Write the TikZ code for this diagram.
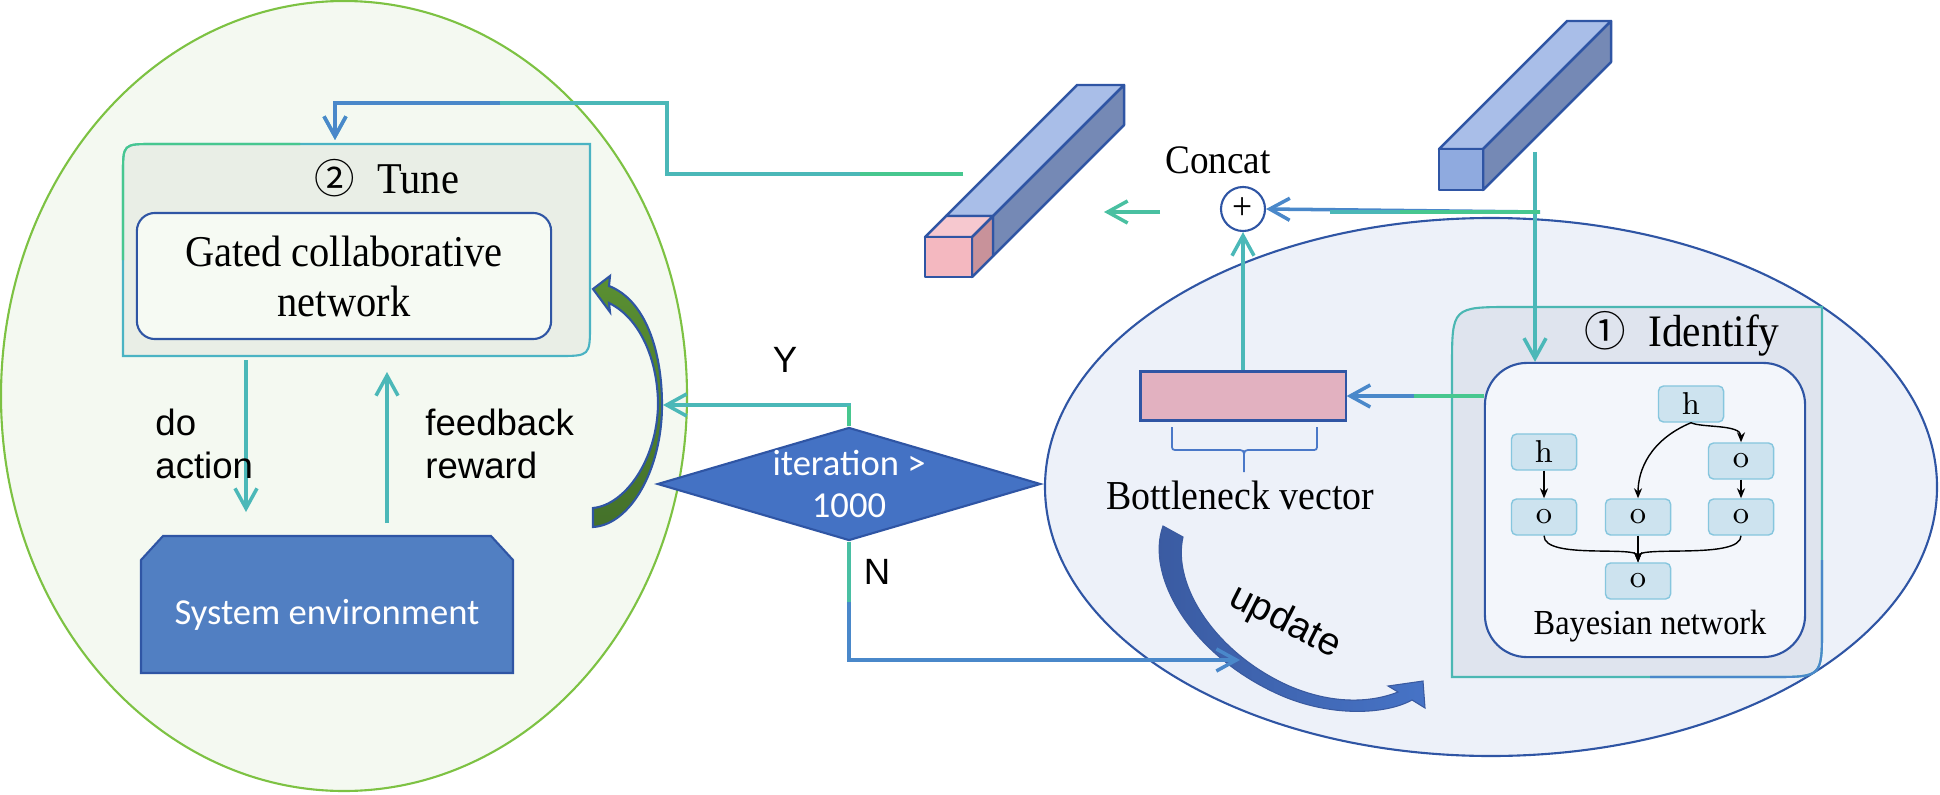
\documentclass[tikz,border=0pt]{standalone}
\usepackage{fontspec}
\usetikzlibrary{arrows.meta,shapes.geometric}

\newfontfamily\tnr[FakeStretch=0.92]{Liberation Serif}
\newfontfamily\arial{Liberation Sans}
\newfontfamily\calibri{Carlito}
\newfontfamily\cjk{Noto Sans CJK SC}

\definecolor{navy}{HTML}{2F55A4}
\definecolor{tealA}{HTML}{4BB8B8}
\definecolor{greenA}{HTML}{47C78F}
\definecolor{blueA}{HTML}{4A88CA}
\definecolor{leafFill}{HTML}{F4F9F1}
\definecolor{leafDraw}{HTML}{7DC243}
\definecolor{tuneFill}{HTML}{E9EEE6}
\definecolor{tuneDraw}{HTML}{4AB3C3}
\definecolor{gatedFill}{HTML}{F6FAF3}
\definecolor{skyFill}{HTML}{EDF1F9}
\definecolor{identFill}{HTML}{DFE4EE}
\definecolor{identDraw}{HTML}{4BB7B3}
\definecolor{bnFill}{HTML}{F3F6FB}
\definecolor{cellFill}{HTML}{CDE3EF}
\definecolor{cellDraw}{HTML}{86C6DE}
\definecolor{pinkA}{HTML}{E2B1C0}
\definecolor{diaFill}{HTML}{4472C4}
\definecolor{envFill}{HTML}{517FC2}
\definecolor{barTop}{HTML}{A9BEE8}
\definecolor{barSide}{HTML}{7589B5}
\definecolor{barFront}{HTML}{8FAADF}
\definecolor{pinkTop}{HTML}{F6C8CF}
\definecolor{pinkFront}{HTML}{F4B8C0}
\definecolor{pinkSide}{HTML}{C8929A}
\definecolor{leafA}{HTML}{5A8F32}
\definecolor{leafB}{HTML}{44712A}
\definecolor{sweepA}{HTML}{3A5AA0}
\definecolor{sweepB}{HTML}{4673C6}
\definecolor{braceBlue}{HTML}{4A78C8}

\begin{document}
\begin{tikzpicture}[
x=.01cm, y=-.01cm,
flow/.style={line width=1pt, draw=tealA, -{Straight Barb[length=2mm, width=2.2mm]}},
tealline/.style={line width=1pt, draw=tealA},
navyline/.style={line width=.6pt, draw=navy},
gated/.style={navyline, fill=gatedFill, rounded corners=.18cm, minimum width=4.14cm, minimum height=1.26cm, align=center, font=\tnr\fontsize{12.5}{14.2}\selectfont},
decision/.style={navyline, shape=diamond, fill=diaFill, minimum width=3.83cm, minimum height=1.13cm, inner sep=0pt},
bneck/.style={navyline, fill=pinkA, minimum width=2.05cm, minimum height=.49cm, inner sep=0pt},
concatnode/.style={navyline, circle, fill=white, minimum size=.44cm, inner sep=0pt, font=\tnr\fontsize{11}{11}\selectfont},
bnbox/.style={navyline, fill=bnFill, rounded corners=.42cm, minimum width=3.2cm, minimum height=2.94cm},
cell/.style={draw=cellDraw, fill=cellFill, rounded corners=.05cm, minimum width=.65cm, minimum height=.36cm, inner sep=0pt, font=\fontsize{9}{10}\selectfont},
link/.style={line width=.4pt, -{Stealth[length=1mm, width=.8mm]}},
bar/.style={line width=.7pt, draw=navy, line join=round},
bracket/.style={line width=.5pt, draw=braceBlue},
sans/.style={font=\arial\fontsize{10.4}{12.2}\selectfont},
serif/.style={font=\tnr\fontsize{#1}{#1}\selectfont}
]

\useasboundingbox (0,0) rectangle (1940,794);

%% Ellipses
\draw[draw=leafDraw, fill=leafFill, line width=.6pt] (344,396) ellipse [x radius=343, y radius=395];
\draw[navyline, fill=skyFill] (1491,487) ellipse [x radius=446, y radius=269];

%% Tune
\draw[draw=tuneDraw, fill=tuneFill, line width=.6pt] (123,356) -- (123,174) .. controls (123,144) .. (153,144) -- (590,144) -- (590,324) .. controls (590,356) .. (558,356) -- cycle;
\draw[draw=greenA, line width=.6pt] (123,260) -- (123,174) .. controls (123,144) .. (153,144) -- (300,144);
\node[anchor=base, serif=12.5] (tune) at (387,194) {{\cjk\fontsize{11.5}{12}\selectfont ②}\enspace Tune};
\node[gated] (gcn) at (344,276) {Gated collaborative\\network};

% system environment
\draw[navyline, fill=envFill] (141,673) -- (141,560) -- (163,536) -- (491,536) -- (513,560) -- (513,673) -- cycle;
\node[anchor=base, text=white, font=\calibri\fontsize{10.4}{12}\selectfont] (sysenv) at (327,624) {System environment};

\coordinate (actTop) at (246,360);
\coordinate (actEnd) at (246,512);
\coordinate (fbBot) at (387,523);
\coordinate (fbEnd) at (387,372);
\draw[flow] (actTop) -- (actEnd);
\draw[flow] (fbBot) -- (fbEnd);
\node[sans, anchor=west, align=left] (doact) at (143,444) {do\\action};
\node[sans, anchor=west, align=left] (fbrew) at (413,444) {feedback\\reward};

% loop arrow
\draw[navyline, top color=leafA, bottom color=leafB] (593,289) -- (610,276) -- (609,286) .. controls (645,300) and (662,350) .. (662,405) .. controls (662,470) and (630,525) .. (593,527) -- (593,508) .. controls (625,505) and (657,460) .. (658,405) .. controls (658,360) and (640,318) .. (609,303) -- (610,312) -- cycle;

%% Identify
\draw[draw=identDraw, fill=identFill, line width=.6pt] (1452,677) -- (1452,367) .. controls (1452,307) .. (1512,307) -- (1822,307) -- (1822,627) .. controls (1822,677) .. (1772,677) -- cycle;
\draw[draw=blueA, line width=.6pt] (1822,560) -- (1822,627) .. controls (1822,677) .. (1772,677) -- (1650,677);
\node[anchor=base, serif=12.8] (ident) at (1682,346) {{\cjk\fontsize{11.8}{12}\selectfont ①}\enspace Identify};
\node[bnbox] (bn) at (1645,510) {};
\node[anchor=base, serif=10] (bnlabel) at (1650,634) {Bayesian network};

\foreach \n/\x/\y/\t in {h1/1691/404/h, h2/1544/452/h, o1/1544/517/o, o2/1638/517/o, o3/1741/517/o, o4/1741/461/o, o5/1638/581/o}
  \node[cell] (\n) at (\x,\y) {\t};

\foreach \a/\b in {h2/o1, o4/o3, o2/o5}
  \draw[link] (\a) -- (\b);
\draw[link] (h1.south) .. controls (1702,428) and (1741,424) .. (o4.north);
\draw[link] (h1.south) .. controls (1650,440) and (1638,470) .. (o2.north);
\draw[link] (o1.south) .. controls (1544,560) and (1638,545) .. (o5.north);
\draw[link] (o3.south) .. controls (1741,560) and (1638,545) .. (o5.north);

%% Bottleneck and concat
\node[bneck] (bneck) at (1243,396) {};
\draw[bracket] (1172,427) -- (1172,444) .. controls (1172,450) .. (1178,450) -- (1236,450) .. controls (1244,450) .. (1244,458) -- (1244,472);
\draw[bracket] (1317,427) -- (1317,444) .. controls (1317,450) .. (1311,450) -- (1252,450) .. controls (1244,450) .. (1244,458);
\node[anchor=base, serif=11.7] (bnecklabel) at (1240,509) {Bottleneck vector};

\node[concatnode] (concat) at (1243,209) {+};
\node[anchor=base, serif=11.5] (concatlabel) at (1218,173) {Concat};

%% Bars
% output bar
\draw[bar, fill=barTop] (946,216) -- (1077,85) -- (1124,85) -- (993,216) -- cycle;
\draw[bar, fill=barSide] (993,216) -- (1124,85) -- (1124,125) -- (993,256) -- cycle;
\draw[bar, fill=pinkTop] (925,237) -- (946,216) -- (993,216) -- (972,237) -- cycle;
\draw[bar, fill=pinkSide] (972,237) -- (993,216) -- (993,256) -- (972,277) -- cycle;
\draw[bar, fill=pinkFront] (925,237) rectangle (972,277);
% input bar
\draw[bar, fill=barTop] (1439,149) -- (1567,21) -- (1611,21) -- (1483,149) -- cycle;
\draw[bar, fill=barSide] (1483,149) -- (1611,21) -- (1611,62) -- (1483,190) -- cycle;
\draw[bar, fill=barFront] (1439,149) rectangle (1483,190);

%% Connectors
\coordinate (outFoot) at (963,174);
\coordinate (tuneTop) at (335,140);
\draw[flow] (outFoot) -- (667,174) -- (667,103) -- (335,103) -- (tuneTop);
\draw[flow, draw=blueA] (500,103) -- (335,103) -- (tuneTop);
\draw[tealline, draw=greenA] (outFoot) -- (860,174);

\coordinate (inFoot) at (1535,152);
\draw[flow] (inFoot) -- (inFoot |- bn.north);
\coordinate (inTap) at (1540,212);
\draw[flow, draw=blueA] (inTap) -- (concat.east);
\draw[tealline, draw=tealA] (inTap) -- (1330,212);
\draw[tealline, draw=greenA] (inTap) -- (1400,212);

\coordinate (catOut) at (1160,212);
\coordinate (barIn) at (1104,212);
\draw[flow, draw=greenA!55!tealA] (catOut) -- (barIn);

\draw[flow] (bneck.north) -- (concat.south);
\draw[flow, draw=blueA] (bn.west |- bneck) -- (bneck.east);
\draw[tealline, draw=greenA] (bn.west |- bneck) -- ++(-70,0);

%% Decision
\node[decision] (cond) at (849,484) {};
\node[text=white, align=center, font=\calibri\fontsize{10.4}{12.2}\selectfont] (condtext) at (849,484) {iteration >\\1000};
\coordinate (yEnd) at (663,405);
\draw[flow] (cond.north) |- (yEnd);
\draw[tealline, draw=greenA] (cond.north) -- ++(0,-20);
\node[sans, anchor=base] (ylab) at (785,372) {Y};

% update arrow
\draw[draw=sweepA, line width=.3pt, left color=sweepA, right color=sweepB] (1163,526) .. controls (1145,575) and (1190,655) .. (1280,695) .. controls (1330,717) and (1385,715) .. (1412,700) -- (1425,708) -- (1423,681) -- (1388,686) -- (1398,692) .. controls (1365,705) and (1325,702) .. (1287,685) .. controls (1215,652) and (1172,585) .. (1183,537) -- cycle;
\node[sans, font=\arial\fontsize{11}{12}\selectfont, rotate=-27] (upd) at (1285,622) {update};

\coordinate (nEnd) at (1240,660);
\draw[flow, draw=blueA] (cond.south) |- (nEnd);
\draw[tealline, draw=greenA!50!tealA] (cond.south) -- ++(0,60);
\node[sans, anchor=base] (nlab) at (877,584) {N};

\end{tikzpicture}
\end{document}
